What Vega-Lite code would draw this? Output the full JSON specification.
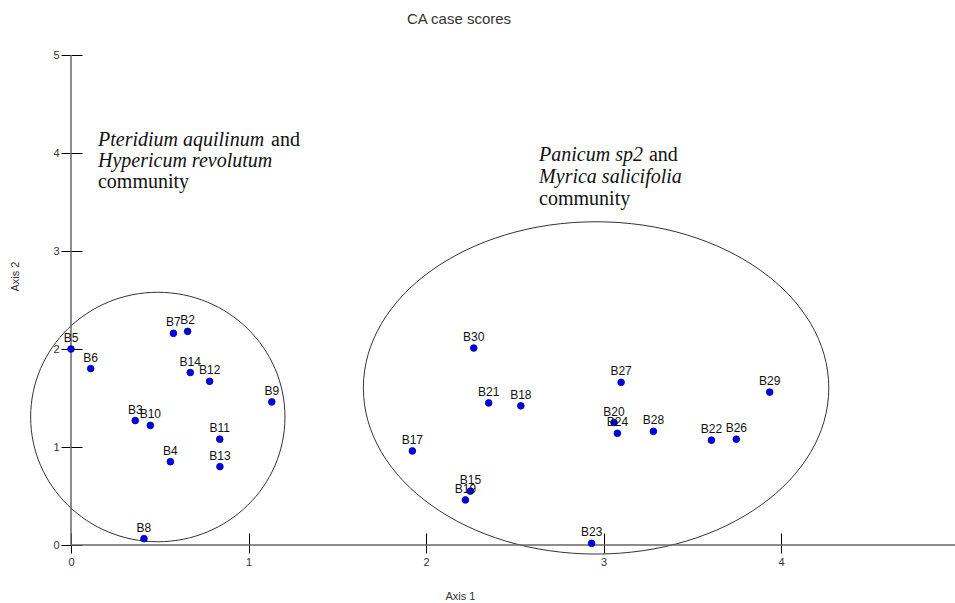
{
  "$schema": "https://vega.github.io/schema/vega-lite/v6.json",
  "width": 884,
  "height": 490,
  "autosize": {"type": "none"},
  "padding": {"left": 71, "top": 55, "right": 0, "bottom": 58},
  "background": "white",
  "config": {"view": {"stroke": null}, "font": "Liberation Sans"},
  "title": {
    "text": "CA case scores",
    "font": "Liberation Sans",
    "fontSize": 15,
    "fontWeight": "normal",
    "color": "#333333",
    "anchor": "middle",
    "frame": "group",
    "dx": -54,
    "offset": 22
  },
  "datasets": {
    "scores": [
      {"site": "B2", "x": 0.657, "y": 2.18},
      {"site": "B3", "x": 0.362, "y": 1.27},
      {"site": "B4", "x": 0.560, "y": 0.85},
      {"site": "B5", "x": 0.0, "y": 2.0},
      {"site": "B6", "x": 0.111, "y": 1.80},
      {"site": "B7", "x": 0.577, "y": 2.16},
      {"site": "B8", "x": 0.411, "y": 0.064},
      {"site": "B9", "x": 1.131, "y": 1.46},
      {"site": "B10", "x": 0.447, "y": 1.22},
      {"site": "B11", "x": 0.838, "y": 1.08},
      {"site": "B12", "x": 0.781, "y": 1.67},
      {"site": "B13", "x": 0.839, "y": 0.80},
      {"site": "B14", "x": 0.672, "y": 1.76},
      {"site": "B15", "x": 2.250, "y": 0.55},
      {"site": "B17", "x": 1.923, "y": 0.96},
      {"site": "B18", "x": 2.534, "y": 1.42},
      {"site": "B19", "x": 2.222, "y": 0.46},
      {"site": "B20", "x": 3.059, "y": 1.25},
      {"site": "B21", "x": 2.353, "y": 1.45},
      {"site": "B22", "x": 3.608, "y": 1.07},
      {"site": "B23", "x": 2.933, "y": 0.017},
      {"site": "B24", "x": 3.078, "y": 1.14},
      {"site": "B26", "x": 3.748, "y": 1.08},
      {"site": "B27", "x": 3.099, "y": 1.66},
      {"site": "B28", "x": 3.281, "y": 1.16},
      {"site": "B29", "x": 3.936, "y": 1.56},
      {"site": "B30", "x": 2.269, "y": 2.01}
    ],
    "groups": [
      {"community": "Pteridium-Hypericum", "x": 0.489, "y": 1.306},
      {"community": "Panicum-Myrica", "x": 2.958, "y": 1.603}
    ],
    "notes": [
      {"x": 0.152, "y": 4.074, "text": "Pteridium aquilinum", "kind": "taxon"},
      {"x": 1.127, "y": 4.074, "text": "and", "kind": "plain"},
      {"x": 0.152, "y": 3.857, "text": "Hypericum revolutum", "kind": "taxon"},
      {"x": 0.152, "y": 3.640, "text": "community", "kind": "plain"},
      {"x": 2.637, "y": 3.918, "text": "Panicum sp2", "kind": "taxon"},
      {"x": 3.256, "y": 3.918, "text": "and", "kind": "plain"},
      {"x": 2.637, "y": 3.697, "text": "Myrica salicifolia", "kind": "taxon"},
      {"x": 2.637, "y": 3.469, "text": "community", "kind": "plain"}
    ]
  },
  "encoding": {
    "x": {
      "field": "x",
      "type": "quantitative",
      "scale": {"domain": [0, 4.98], "nice": false, "zero": false},
      "axis": {
        "title": "Axis 1",
        "values": [0, 1, 2, 3, 4],
        "grid": false,
        "domain": false,
        "offset": -12,
        "tickSize": 20,
        "tickColor": "#000000",
        "tickWidth": 1,
        "labelFlush": false,
        "labelPadding": 3,
        "labelFontSize": 11,
        "labelColor": "#333333",
        "labelFont": "Liberation Sans",
        "titleFont": "Liberation Sans",
        "titleFontSize": 11,
        "titleFontWeight": "normal",
        "titleColor": "#333333",
        "titleX": 389,
        "titleY": 63,
        "titleBaseline": "middle"
      }
    },
    "y": {
      "field": "y",
      "type": "quantitative",
      "scale": {"domain": [0, 5], "nice": false, "zero": false},
      "axis": {
        "title": "Axis 2",
        "values": [0, 1, 2, 3, 4, 5],
        "grid": false,
        "domain": false,
        "offset": -11,
        "tickSize": 21,
        "tickColor": "#000000",
        "tickWidth": 1,
        "labelPadding": 2,
        "labelFontSize": 11,
        "labelColor": "#333333",
        "labelFont": "Liberation Sans",
        "titleFont": "Liberation Sans",
        "titleFontSize": 11,
        "titleFontWeight": "normal",
        "titleColor": "#333333",
        "titleAngle": 270,
        "titleX": -67,
        "titleY": 221,
        "titleBaseline": "middle"
      }
    }
  },
  "layer": [
    {
      "data": {"name": "groups"},
      "transform": [{"filter": "datum.community === 'Pteridium-Hypericum'"}],
      "mark": {
        "type": "point",
        "shape": "M -1 0 A 1 0.981 0 1 1 1 0 A 1 0.981 0 1 1 -1 0 Z",
        "size": 64668,
        "filled": false,
        "stroke": "#333333",
        "strokeWidth": 1,
        "opacity": 1
      }
    },
    {
      "data": {"name": "groups"},
      "transform": [{"filter": "datum.community === 'Panicum-Myrica'"}],
      "mark": {
        "type": "point",
        "shape": "M -1 0 A 1 0.714 0 1 1 1 0 A 1 0.714 0 1 1 -1 0 Z",
        "size": 216597,
        "filled": false,
        "stroke": "#333333",
        "strokeWidth": 1,
        "opacity": 1
      }
    },
    {
      "data": {"values": [{"x": 0, "x2": 4.98, "y": 0}]},
      "mark": {"type": "rule", "color": "#666666", "strokeWidth": 1.5},
      "encoding": {"x2": {"field": "x2"}}
    },
    {
      "data": {"values": [{"x": 0, "y": 0, "y2": 5}]},
      "mark": {"type": "rule", "color": "#666666", "strokeWidth": 1.5},
      "encoding": {"y2": {"field": "y2"}}
    },
    {
      "data": {"name": "scores"},
      "mark": {
        "type": "circle",
        "size": 45,
        "color": "#0000f5",
        "stroke": "#00007a",
        "strokeWidth": 0.8,
        "opacity": 1
      }
    },
    {
      "data": {"name": "scores"},
      "mark": {
        "type": "text",
        "align": "center",
        "baseline": "alphabetic",
        "dy": -7,
        "font": "Liberation Sans",
        "fontSize": 12,
        "color": "#111111"
      },
      "encoding": {"text": {"field": "site"}}
    },
    {
      "data": {"name": "notes"},
      "transform": [{"filter": "datum.kind === 'taxon'"}],
      "mark": {
        "type": "text",
        "align": "left",
        "baseline": "alphabetic",
        "font": "Liberation Serif",
        "fontStyle": "italic",
        "fontSize": 20,
        "color": "#111111"
      },
      "encoding": {"text": {"field": "text"}}
    },
    {
      "data": {"name": "notes"},
      "transform": [{"filter": "datum.kind === 'plain'"}],
      "mark": {
        "type": "text",
        "align": "left",
        "baseline": "alphabetic",
        "font": "Liberation Serif",
        "fontSize": 20,
        "color": "#111111"
      },
      "encoding": {"text": {"field": "text"}}
    }
  ]
}
